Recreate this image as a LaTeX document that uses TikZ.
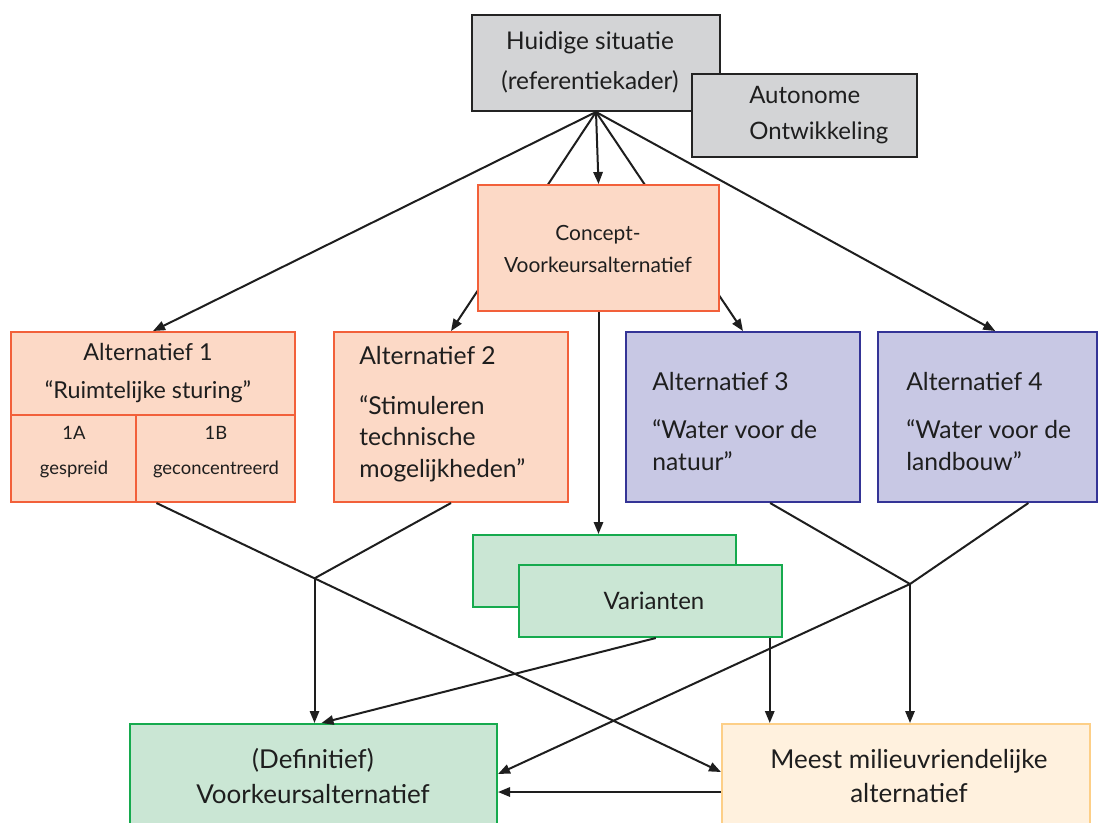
\documentclass[tikz,border=0pt]{standalone}
\usepackage{fontspec}
\setmainfont{Lato}
\usetikzlibrary{arrows.meta,fit,calc}
\definecolor{grayfill}{RGB}{211,212,214}
\definecolor{grayline}{RGB}{35,35,35}
\definecolor{orfill}{RGB}{252,217,198}
\definecolor{orline}{RGB}{242,96,58}
\definecolor{blfill}{RGB}{200,200,228}
\definecolor{blline}{RGB}{52,52,150}
\definecolor{grfill}{RGB}{202,230,212}
\definecolor{grline}{RGB}{22,170,78}
\definecolor{crfill}{RGB}{255,241,222}
\definecolor{crline}{RGB}{253,207,135}
\definecolor{ink}{RGB}{30,30,30}
\begin{document}
\begin{tikzpicture}[x=0.75pt,y=-0.75pt,
  box/.style={inner sep=0pt, line width=1.5pt},
  graybox/.style={box, draw=grayline, fill=grayfill},
  orbox/.style={box, draw=orline, fill=orfill},
  blbox/.style={box, draw=blline, fill=blfill},
  grbox/.style={box, draw=grline, fill=grfill},
  crbox/.style={box, draw=crline, fill=crfill},
  txt/.style={inner sep=0pt, text=ink, font=\fontsize{18}{28}\selectfont},
  conn/.style={draw=ink, line width=1.5pt},
  arr/.style={conn, -{Triangle[length=9pt,width=7pt]}},
]
\useasboundingbox (0,0) rectangle (1099,822);
\clip (0,0) rectangle (1099,822);

% top boxes
\node[graybox, fit={(472,15)(720,111)}] (huidige) {};
\node[txt, align=center, font=\fontsize{18.3}{30}\selectfont] (thuid) at (590,62) {Huidige situatie\\(referentiekader)};
\node[graybox, fit={(692,74)(917,157)}] (auton) {};
\node[txt, align=left, anchor=west, font=\fontsize{18}{27}\selectfont] (taut) at (749,115) {Autonome\\Ontwikkeling};

% alternative 1
\node[orbox, fit={(11,332)(295,502)}] (alt1) {};
\draw[orline, line width=1.5pt] (11,415) -- (295,415) (136,415) -- (136,502);
\node[txt, align=center, font=\fontsize{17.5}{28}\selectfont] (ta1) at (148,373) {Alternatief 1\\“Ruimtelijke sturing”};
\node[txt, align=center, font=\fontsize{13.8}{26}\selectfont] (ta1a) at (74,452) {1A\\gespreid};
\node[txt, align=center, font=\fontsize{13.8}{26}\selectfont] (ta1b) at (216,452) {1B\\geconcentreerd};

% alternative 2
\node[orbox, fit={(334,332)(568,502)}] (alt2) {};
\node[txt, align=left, anchor=west, font=\fontsize{18.5}{23.5}\selectfont] (ta2) at (359,414) {Alternatief 2\\[14pt]“Stimuleren\\technische\\mogelijkheden”};

% alternatives 3, 4
\node[blbox, fit={(626,332)(860,502)}] (alt3) {};
\node[txt, align=left, anchor=west, font=\fontsize{18.5}{24}\selectfont] (ta3) at (652,422) {Alternatief 3\\[12pt]“Water voor de\\natuur”};
\node[blbox, fit={(878,332)(1097,502)}] (alt4) {};
\node[txt, align=left, anchor=west, font=\fontsize{18.5}{24}\selectfont] (ta4) at (906,422) {Alternatief 4\\[12pt]“Water voor de\\landbouw”};

% lines passing behind the concept box
\draw[arr] (huidige.south) -- (alt2.north);
\draw[arr] (huidige.south) -- (alt3.north);

% concept box
\node[orbox, fit={(478,185)(719,311)}] (concept) {};
\node[txt, align=center, font=\fontsize{15.7}{24}\selectfont] (tconc) at (598,249) {Concept-\\Voorkeursalternatief};

% varianten
\node[grbox, fit={(473,535)(736,607)}] (varB) {};
\node[grbox, fit={(519,565)(782,637)}] (varF) {};
\node[txt] (tvar) at (654,601) {Varianten};

% bottom boxes
\node[grbox, fit={(130,724)(497,840)}] (defin) {};
\node[txt, align=center, font=\fontsize{19.5}{26}\selectfont] (tdef) at (313,776) {(Definitief)\\Voorkeursalternatief};
\node[crbox, fit={(722,724)(1090,840)}] (meest) {};
\node[txt, align=center, font=\fontsize{19.5}{26}\selectfont] (tmeest) at (909,776) {Meest milieuvriendelijke\\alternatief};

% top connectors
\coordinate (a4top) at ($(alt4.north west)!0.535!(alt4.north east)$);
\draw[arr] (huidige.south) -- (alt1.north);
\draw[arr] (huidige.south) -- (a4top);
\draw[arr] (huidige.south) -- (concept.north);
\draw[arr] (concept.south) -- (concept.south |- varB.north);

% bottom connectors
\coordinate (a1b) at ($(alt1.south west)!0.512!(alt1.south east)$);
\coordinate (mw) at ($(meest.north west)+(0,49)$);
\coordinate (jl) at ($(a1b)!0.28!(mw)$);
\draw[arr] (a1b) -- (mw);
\coordinate (a2b) at ($(alt2.south west)!0.5!(alt2.south east)$);
\draw[conn] (a2b) -- (jl);
\draw[arr] (jl) -- (jl |- defin.north);
\coordinate (vb) at ($(varF.south west)!0.52!(varF.south east)$);
\draw[arr] (vb) -- ($(defin.north)+(8,0)$);
\coordinate (vr) at ($(varF.south west)!0.95!(varF.south east)$);
\draw[arr] (vr) -- (vr |- meest.north);
\coordinate (a3b) at ($(alt3.south west)!0.615!(alt3.south east)$);
\coordinate (a4b) at ($(alt4.south west)!0.685!(alt4.south east)$);
\coordinate (jr) at (910,584);
\draw[conn] (a3b) -- (jr) -- (a4b);
\draw[arr] (jr) -- (jr |- meest.north);
\draw[arr] (jr) -- ($(defin.north east)+(0,51)$);
\draw[arr] ($(meest.north west)+(0,69)$) -- ($(defin.north east)+(0,69)$);
\end{tikzpicture}
\end{document}
